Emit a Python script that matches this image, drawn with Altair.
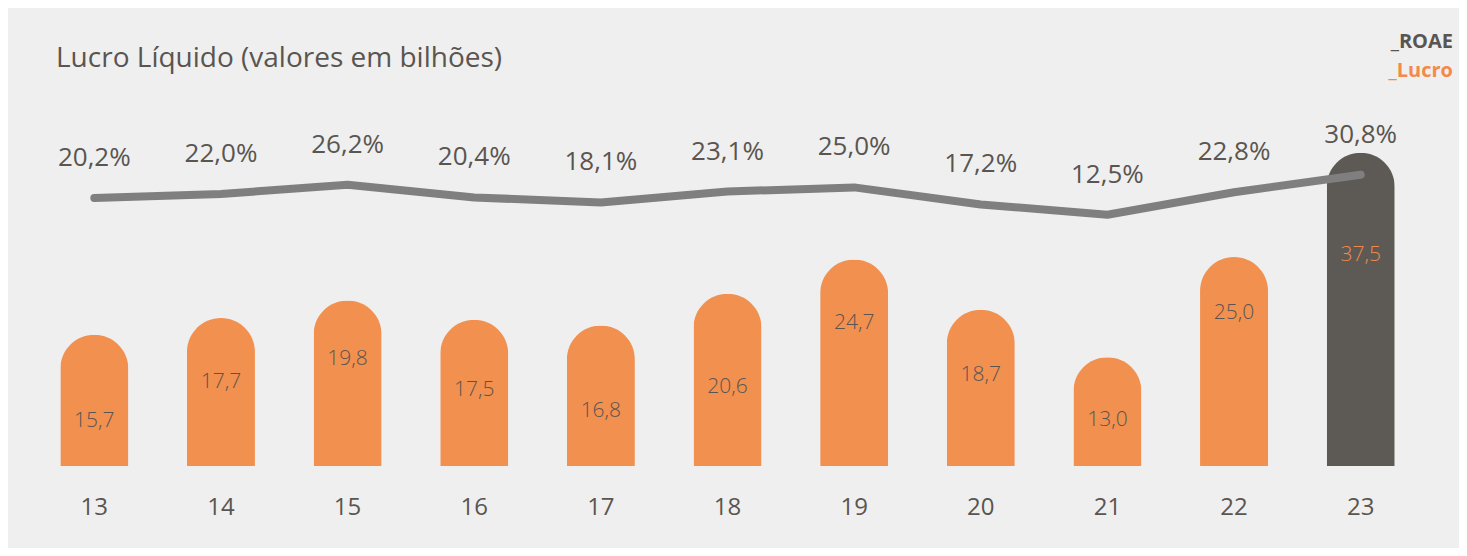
import altair as alt
import pandas as pd

anos = ["13", "14", "15", "16", "17", "18", "19", "20", "21", "22", "23"]
lucro = [15.7, 17.7, 19.8, 17.5, 16.8, 20.6, 24.7, 18.7, 13.0, 25.0, 37.5]
roae = [20.2, 22.0, 26.2, 20.4, 18.1, 23.1, 25.0, 17.2, 12.5, 22.8, 30.8]
# height (in bar units) at which each value label sits inside its bar
rotulo_em = [5.4, 10.1, 12.8, 9.1, 6.6, 9.5, 17.1, 10.9, 5.5, 18.3, 25.3]
destaque = "23"
titulo = "Lucro Líquido (valores em bilhões)"

df = pd.DataFrame({
    "ano": anos,
    "lucro": lucro,
    "roae": roae,
    "rot_y": rotulo_em,
    "lucro_txt": [f"{v:.1f}".replace(".", ",") for v in lucro],
    "roae_txt": [f"{v:.1f}".replace(".", ",") + "%" for v in roae],
})

TXT = "#5a5550"
ORANGE = "#f2904f"
DARK = "#5d5955"
FONT = "Open Sans"

x = alt.X("ano:N", sort=anos, title=None,
          scale=alt.Scale(paddingInner=0.463, paddingOuter=0.2315),
          axis=alt.Axis(labelAngle=0, labelFontSize=24, labelColor=TXT, labelFont=FONT,
                        labelPadding=29, domain=False, ticks=False, grid=False))

ybar = alt.Scale(domain=[0, 43.8], nice=False, zero=True)
yline = alt.Scale(domain=[-102.5, 65], nice=False, zero=False)

base = alt.Chart(df)

bars = base.mark_bar(cornerRadiusTopLeft=34, cornerRadiusTopRight=34).encode(
    x=x,
    y=alt.Y("lucro:Q", scale=ybar, axis=None),
    color=alt.condition(alt.datum.ano == destaque, alt.value(DARK), alt.value(ORANGE)),
)

bar_labels = base.mark_text(fontSize=21, font=FONT, fontWeight=300, baseline="middle").encode(
    x=x,
    y=alt.Y("rot_y:Q", scale=ybar, axis=None),
    text="lucro_txt:N",
    color=alt.condition(alt.datum.ano == destaque, alt.value("#f08a4b"), alt.value(TXT)),
)

line = base.mark_line(strokeWidth=8, strokeCap="round", strokeJoin="round", color="#7f7f7f").encode(
    x=x,
    y=alt.Y("roae:Q", scale=yline, axis=None),
)

line_labels = base.mark_text(fontSize=26, font=FONT, dy=-40, baseline="middle", color=TXT).encode(
    x=x,
    y=alt.Y("roae:Q", scale=yline, axis=None),
    text="roae_txt:N",
)

title_mark = alt.Chart(pd.DataFrame({"t": [titulo]})).mark_text(
    fontSize=28, font=FONT, align="left", baseline="middle", color=TXT
).encode(x=alt.value(25), y=alt.value(-41), text="t:N")

leg_roae = alt.Chart(pd.DataFrame({"t": ["_ROAE"]})).mark_text(
    fontSize=20, font=FONT, fontWeight="bold", align="right", baseline="middle", color=TXT
).encode(x=alt.value(1422), y=alt.value(-58), text="t:N")

leg_lucro = alt.Chart(pd.DataFrame({"t": ["_Lucro"]})).mark_text(
    fontSize=20, font=FONT, fontWeight="bold", align="right", baseline="middle", color="#f5894a"
).encode(x=alt.value(1422), y=alt.value(-29), text="t:N")

chart = alt.layer(
    alt.layer(bars, bar_labels),
    alt.layer(line, line_labels),
    title_mark, leg_roae, leg_lucro,
).resolve_scale(y="independent").properties(
    width=1393,
    height=366,
    padding={"left": 23, "top": 92, "right": 35, "bottom": 82},
    autosize=alt.AutoSizeParams(type="none"),
).configure(background="#efefef").configure_view(stroke=None)

chart.save("out.html", embed_options={"renderer": "svg", "actions": False})
